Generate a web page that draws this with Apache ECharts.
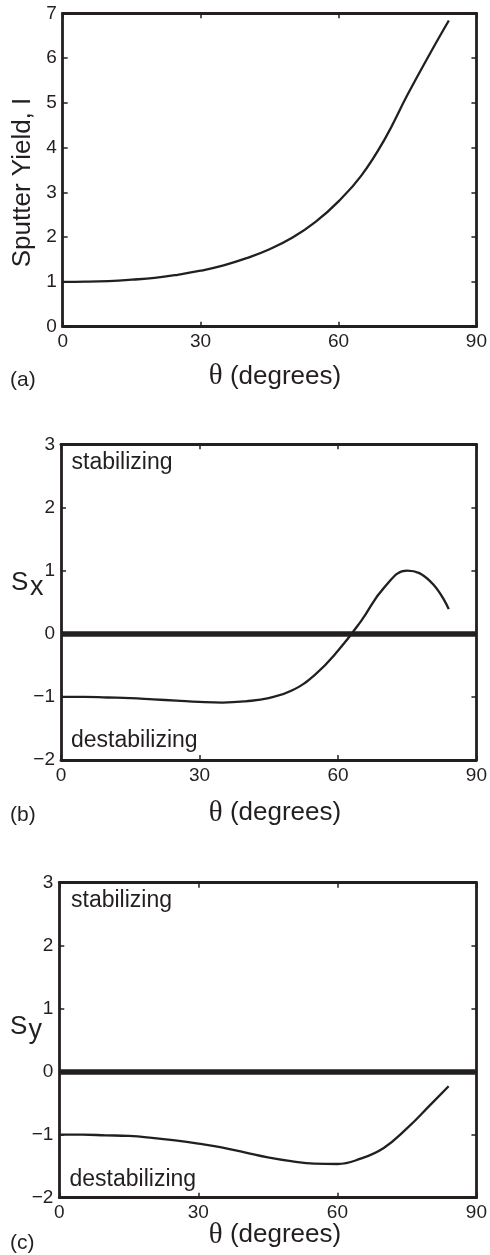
<!DOCTYPE html>
<html><head><meta charset="utf-8">
<script src="https://cdn.jsdelivr.net/npm/echarts@6/dist/echarts.min.js"></script>
<style>html,body{margin:0;padding:0;background:#fff}#c{width:490px;height:1255px}</style>
</head><body><div id="c"></div>
<script>
// ---- data ----
const theta        = [0, 5, 10, 15, 20, 25, 30, 35, 40, 45, 50, 55, 60, 65, 70, 75, 80, 84];
const sputterYield = [1.00, 1.005, 1.02, 1.05, 1.09, 1.16, 1.25, 1.37, 1.53, 1.73, 1.99, 2.34, 2.80, 3.38, 4.18, 5.18, 6.12, 6.84];
const sX           = [-1.00, -1.00, -1.01, -1.02, -1.04, -1.06, -1.08, -1.09, -1.07, -1.02, -0.90, -0.65, -0.27, 0.20, 0.73, 1.00, 0.83, 0.39];
const sY           = [-1.00, -1.00, -1.01, -1.02, -1.05, -1.09, -1.14, -1.20, -1.28, -1.36, -1.42, -1.46, -1.465, -1.38, -1.21, -0.90, -0.53, -0.23];
const xRange   = [0, 90, 30];      // min, max, interval
const yRangeA  = [0, 7, 1];
const yRangeBC = [-2, 3, 1];
const panelLabels = ['(a)', '(b)', '(c)'];

const ink = '#231f20';
const font = "'Liberation Sans', Arial, sans-serif";

const grids = [
  {left: 62.7, right: 11, top: 13.3, height: 313.4},
  {left: 61,   right: 11, top: 444.3, height: 315.7},
  {left: 59.3, right: 11, top: 882.7, height: 315}
];
const yRanges = [yRangeA, yRangeBC, yRangeBC];
const seriesVals = [sputterYield, sX, sY];

const tick = {show: true, inside: true, length: 5, lineStyle: {color: ink, width: 1.5}};
const line = {show: true, onZero: false, lineStyle: {color: ink, width: 2.8}};
const fmt = v => String(v).replace('-', '\u2212');

const xAxes = [], yAxes = [], series = [];
grids.forEach((g, i) => {
  xAxes.push({gridIndex: i, type: 'value', position: 'bottom', min: xRange[0], max: xRange[1], interval: xRange[2],
    axisLine: line, axisTick: tick, splitLine: {show: false},
    axisLabel: {margin: 6, color: ink, fontSize: 19, fontFamily: font, formatter: fmt}});
  xAxes.push({gridIndex: i, type: 'value', position: 'top', min: xRange[0], max: xRange[1], interval: xRange[2],
    axisLine: line, axisTick: tick, splitLine: {show: false}, axisLabel: {show: false}});
  const r = yRanges[i];
  yAxes.push({gridIndex: i, type: 'value', position: 'left', min: r[0], max: r[1], interval: r[2],
    axisLine: line, axisTick: tick, splitLine: {show: false},
    axisLabel: {margin: 6, color: ink, fontSize: 19, fontFamily: font, formatter: fmt}});
  yAxes.push({gridIndex: i, type: 'value', position: 'right', min: r[0], max: r[1], interval: r[2],
    axisLine: line, axisTick: tick, splitLine: {show: false}, axisLabel: {show: false}});
  const s = {
    type: 'line', xAxisIndex: 2 * i, yAxisIndex: 2 * i, smooth: 0.45, showSymbol: false, silent: true,
    lineStyle: {color: ink, width: 2.3}, itemStyle: {color: ink},
    data: theta.map((t, k) => [t, seriesVals[i][k]])
  };
  if (i > 0) {
    s.markLine = {silent: true, symbol: 'none', label: {show: false},
      lineStyle: {color: ink, width: 5.5, type: 'solid'}, data: [{yAxis: 0}]};
  }
  series.push(s);
});

function txt(x, y, text, size, extra) {
  return Object.assign({type: 'text', x: x, y: y, silent: true,
    style: {text: text, fill: ink, font: size + 'px ' + font, verticalAlign: 'middle', align: 'left'}}, extra || {});
}
function xName(y) {
  return {type: 'text', x: 275, y: y, silent: true,
    style: {text: '{t|\u03b8}{d| (degrees)}', align: 'center', verticalAlign: 'middle',
      rich: {t: {fontSize: 29, fontFamily: "'Liberation Serif', 'Times New Roman', serif", fill: ink},
             d: {fontSize: 26, fontFamily: font, fill: ink}}}};
}

const graphic = [
  // y-axis names
  {type: 'text', x: 22.5, y: 182.5, rotation: Math.PI / 2, silent: true,
   style: {text: 'Sputter Yield, I', fill: ink, font: '26px ' + font, align: 'center', verticalAlign: 'middle'}},
  txt(11, 582.5, 'S', 26), txt(30, 588, 'x', 27),
  txt(10, 1027, 'S', 26), txt(28.5, 1031, 'y', 27),
  // x-axis names
  xName(376.7), xName(813.3), xName(1235),
  // panel labels
  txt(10, 380, panelLabels[0], 21), txt(10, 815, panelLabels[1], 21), txt(10, 1243, panelLabels[2], 21),
  // region annotations
  txt(71.5, 463, 'stabilizing', 23), txt(71, 741, 'destabilizing', 23),
  txt(71, 901, 'stabilizing', 23), txt(69.5, 1180, 'destabilizing', 23)
];

const chart = echarts.init(document.getElementById('c'), null, {renderer: 'canvas'});
chart.setOption({
  animation: false,
  backgroundColor: '#fff',
  grid: grids,
  xAxis: xAxes,
  yAxis: yAxes,
  series: series,
  graphic: graphic
});
</script>
</body></html>
